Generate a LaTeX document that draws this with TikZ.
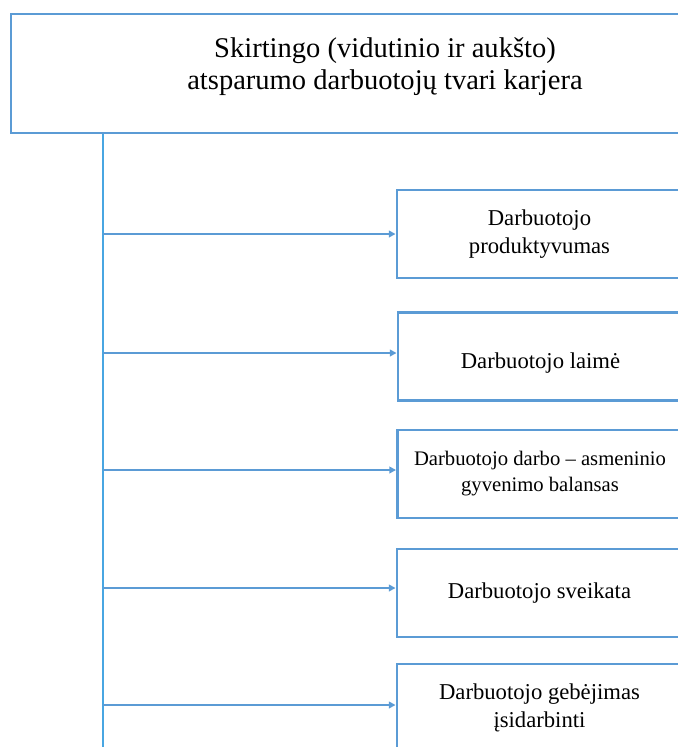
\documentclass[tikz,border=0pt]{standalone}
\usepackage{fontspec}
\setmainfont{Liberation Serif}
\usetikzlibrary{arrows.meta}
\definecolor{boxblue}{RGB}{91,155,213}
\definecolor{trunkblue}{RGB}{72,166,226}
\begin{document}
\begin{tikzpicture}[x=0.75pt, y=-0.75pt,
  titlebox/.style={draw=boxblue, line width=2.2pt, minimum width=561pt, minimum height=89.25pt, inner sep=0pt},
  itembox/.style={draw=boxblue, line width=2.2pt, minimum width=213.75pt, minimum height=66pt, inner sep=0pt,
    align=center, font=\fontsize{17}{21}\selectfont},
  link/.style={draw=boxblue, line width=1.7pt, -{Triangle[length=5pt,width=5pt]}},
  trunk/.style={draw=trunkblue, line width=1.7pt}]
  \useasboundingbox (0,0) rectangle (678,747);
  \clip (0,0) rectangle (678,747);

  % top box
  \node[titlebox] (title) at (385,73.5) {};
  \node[align=center, font=\fontsize{21.4}{24}\selectfont] (titletext) at (385,67)
    {Skirtingo (vidutinio ir aukšto)\\atsparumo darbuotojų tvari karjera};

  % right boxes
  \node[itembox] (prod) at (539.5,234) {Darbuotojo\\produktyvumas};
  \node[itembox, text height=21pt] (laime) at (540.5,356.5) {Darbuotojo laimė};
  \node[itembox, font=\fontsize{15.5}{19.5}\selectfont] (balans) at (540,474) {Darbuotojo darbo -- asmeninio\\gyvenimo balansas};
  \node[itembox] (sveik) at (539.5,593) {Darbuotojo sveikata};
  \node[itembox, text depth=4pt] (isidarb) at (539.5,708) {Darbuotojo gebėjimas\\įsidarbinti};

  % trunk and branches
  \coordinate (trunkend) at (103,752);
  \draw[trunk] (trunkend |- title.south) -- (trunkend);
  \foreach \nm/\yy in {prod/234, laime/353, balans/470, sveik/588, isidarb/705} {
    \coordinate (j-\nm) at (103,\yy);
    \draw[link] (j-\nm) -- (j-\nm -| \nm.west);
  }
\end{tikzpicture}
\end{document}
